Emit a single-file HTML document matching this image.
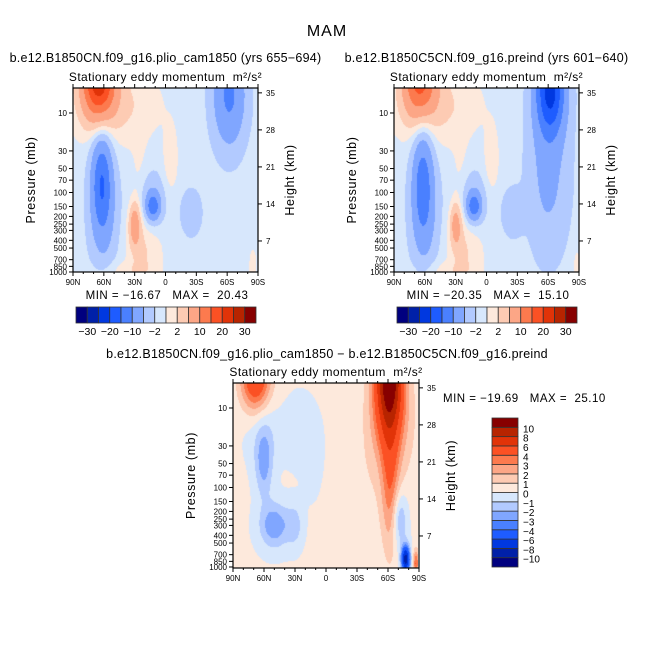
<!DOCTYPE html>
<html><head><meta charset="utf-8">
<style>
body{margin:0;background:#fff;}
#root{position:relative;width:654px;height:654px;overflow:hidden;font-family:"Liberation Sans","DejaVu Sans",sans-serif;}
canvas{position:absolute;}
svg{position:absolute;left:0;top:0;}
text{white-space:pre;}
</style></head>
<body>
<div id="root">
<canvas id="c1" width="185" height="184" style="left:73px;top:88px"></canvas>
<canvas id="c2" width="185" height="184" style="left:394px;top:88px"></canvas>
<canvas id="c3" width="185" height="185" style="left:233px;top:383px"></canvas>
<svg id="s" width="654" height="654"></svg>
</div>
<script>
// ---- data ----
const topLevels = [-30,-25,-20,-15,-10,-5,-2,0,2,5,10,15,20,25,30];
const topLevelLabels = ["-30","-20","-10","-2","2","10","20","30"];
const diffLevels = [-10,-8,-6,-4,-3,-2,-1,0,1,2,3,4,6,8,10];
const colors = ["#00007f","#0020a8","#0038e0","#1e5cff","#4a80ff","#80a6ff","#b2caff","#d7e7fc","#fde9dc","#fdcbb3","#fca686","#fc7a4e","#fb5124","#e13308","#b72400","#870000"];
const pressTicks = [10,30,50,70,100,150,200,250,300,400,500,700,850,1000];
const heightTicks = [35,28,21,14,7];
const latTicks = [90,60,30,0,-30,-60,-90];
const latLabels = ["90N","60N","30N","0","30S","60S","90S"];
// blobs: lat center, pressure center (mb), amplitude, lat sigma, log-p sigma
const p1Lat = [65,50,-62,62,60,12,15,30,20,-25,-5,40,-85,25];
const p1P   = [3.5,8,6,70,200,150,130,250,500,180,40,1000,900,100];
const p1Amp = [24,3.5,-10,-12,-4,-10,-4.5,8,3,-3.5,2.5,2,2,2];
const p1SL  = [11,30,11,7,10,4.5,10,4,12,7,5,20,3,6];
const p1SZ  = [0.35,0.35,0.45,0.45,0.5,0.11,0.25,0.2,0.3,0.2,0.3,0.1,0.2,0.4];
const p1Base = -1;
const p2Lat = [65,50,-62,-60,62,60,12,15,30,20,-25,-5,40,-88,25];
const p2P   = [3.5,8,5,60,70,200,150,130,250,500,180,40,1000,900,100];
const p2Amp = [17,3.5,-20,-5,-10,-4,-10,-4.5,7,3,-3.5,2.5,2,2,2];
const p2SL  = [11,30,10,14,7,10,4.5,10,4,12,7,5,20,3,6];
const p2SZ  = [0.35,0.35,0.4,0.7,0.5,0.5,0.11,0.25,0.2,0.3,0.2,0.3,0.1,0.2,0.4];
const p2Base = -1;
const dLat = [-62,-63,68,60,50,30,25,-78,-20,60,-72,-88,-62,10];
const dP   = [3.5,100,4,50,300,300,20,800,200,20,250,900,15,60];
const dAmp = [11,3,6,-2.5,-3,-1.5,-0.8,-9,0.7,-1,-2.5,4,2.5,-0.6];
const dSL  = [9,6,10,6,10,6,10,3,20,12,5,2,16,8];
const dSZ  = [0.5,0.6,0.3,0.3,0.2,0.2,0.3,0.12,0.5,0.3,0.25,0.12,0.55,0.4];
const dBase = 0.15;

// ---- axis functions ----
const zTop = Math.log10(4.85), pxPerDec = 79.5;
function yOfP(p, y0){ return y0 + (Math.log10(p)-zTop)*pxPerDec; }
function xOfLat(lat, x0, w){ return x0 + (90-lat)/180*w; }
function yOfH(h, y0){ return y0 + 190 - 5.29*h; }

function render(id, lat, P, amp, sl, sz, base, levels){
  const c=document.getElementById(id), ctx=c.getContext('2d');
  const W=c.width,H=c.height, img=ctx.createImageData(W,H);
  const rgb=colors.map(h=>[parseInt(h.substr(1,2),16),parseInt(h.substr(3,2),16),parseInt(h.substr(5,2),16)]);
  for(let j=0;j<H;j++){
    const z = zTop + (j+0.5)/pxPerDec;
    for(let i=0;i<W;i++){
      const la = 90 - (i+0.5)/W*180;
      let v=base;
      for(let k=0;k<lat.length;k++){
        const dx=(la-lat[k])/sl[k], dz=(z-Math.log10(P[k]))/sz[k];
        v+=amp[k]*Math.exp(-0.5*(dx*dx+dz*dz));
      }
      let idx=0; while(idx<levels.length && v>=levels[idx]) idx++;
      const o=(j*W+i)*4, col=rgb[idx];
      img.data[o]=col[0];img.data[o+1]=col[1];img.data[o+2]=col[2];img.data[o+3]=255;
    }
  }
  ctx.putImageData(img,0,0);
}
render('c1',p1Lat,p1P,p1Amp,p1SL,p1SZ,p1Base,topLevels);
render('c2',p2Lat,p2P,p2Amp,p2SL,p2SZ,p2Base,topLevels);
render('c3',dLat,dP,dAmp,dSL,dSZ,dBase,diffLevels);

// ---- annotations ----
const S=document.getElementById('s'), NS='http://www.w3.org/2000/svg';
function el(tag,attrs,txt){const e=document.createElementNS(NS,tag);for(const k in attrs)e.setAttribute(k,attrs[k]);if(txt!=null)e.textContent=txt;S.appendChild(e);return e;}
function text(x,y,t,size,anchor,name,extra){
  const e=el('text',Object.assign({x:x,y:y,'font-size':size,'text-anchor':anchor||'middle',fill:'#000'},extra||{}),t);
  
  
  return e;
}
text(327,36,"MAM",16,'middle','figure-title',{'letter-spacing':1});

function panel(x0,y0,w,h,title,tag){
  const r=el('rect',{x:x0,y:y0,width:w,height:h,fill:'none',stroke:'#000','stroke-width':1.2});
  
  
  if(title) text(x0+w/2,y0-26,title,12.5,'middle',tag+'-title',{'letter-spacing':0.25});
  text(x0+w/2,y0-7,"Stationary eddy momentum  m²/s²",12,'middle',tag+'-subtitle',{'letter-spacing':0.4});
  pressTicks.forEach(p=>{
    const y=yOfP(p,y0);
    el('line',{x1:x0-4,x2:x0,y1:y,y2:y,stroke:'#000'});
    text(x0-6,y+3,String(p),8,'end',tag+'-pressure-tick-label');
  });
  heightTicks.forEach(hk=>{
    const y=yOfH(hk,y0);
    el('line',{x1:x0+w,x2:x0+w+4,y1:y,y2:y,stroke:'#000'});
    text(x0+w+8,y+3,String(hk),8,'start',tag+'-height-tick-label');
  });
  latTicks.forEach((la,i)=>{
    const x=xOfLat(la,x0,w);
    el('line',{x1:x,x2:x,y1:y0+h,y2:y0+h+4,stroke:'#000'});
    el('line',{x1:x,x2:x,y1:y0,y2:y0-4,stroke:'#000'});
    text(x,y0+h+13,latLabels[i],8,'middle',tag+'-lat-tick-label');
  });
  for(let la=80;la>-90;la-=10){ if(la%30===0) continue;
    const x=xOfLat(la,x0,w);
    el('line',{x1:x,x2:x,y1:y0+h,y2:y0+h+2,stroke:'#000'});
    el('line',{x1:x,x2:x,y1:y0,y2:y0-2,stroke:'#000'});
  }
  text(x0-38,y0+h/2,"Pressure (mb)",12.5,'middle',tag+'-y-axis-title',{'letter-spacing':0.6,transform:`rotate(-90 ${x0-38} ${y0+h/2})`});
  text(x0+w+36,y0+h/2,"Height (km)",12.5,'middle',tag+'-y2-axis-title',{'letter-spacing':0.6,transform:`rotate(-90 ${x0+w+36} ${y0+h/2})`});
}
panel(73,88,185,184,"b.e12.B1850CN.f09_g16.plio_cam1850 (yrs 655−694)","plio");
panel(394,88,185,184,"b.e12.B1850C5CN.f09_g16.preind (yrs 601−640)","preind");
panel(233,383,186,185,null,"diff");
text(327,358,"b.e12.B1850CN.f09_g16.plio_cam1850 − b.e12.B1850C5CN.f09_g16.preind",12.5,'middle','diff-title',{'letter-spacing':0.25});
text(167,299,"MIN = −16.67   MAX =  20.43",11.5,'middle','plio-min-max',{'letter-spacing':0.5});
text(488,299,"MIN = −20.35   MAX =  15.10",11.5,'middle','preind-min-max',{'letter-spacing':0.5});
text(443,402,"MIN = −19.69   MAX =  25.10",11.5,'start','diff-min-max',{'letter-spacing':0.5});

function hbar(x0,y0,w,h,tag){
  const bw=w/16;
  colors.forEach((c,i)=>{
    const r=el('rect',{x:x0+i*bw,y:y0,width:bw,height:h,fill:c,stroke:'#333','stroke-width':0.8});
    
    
  });
  topLevelLabels.forEach((t,k)=>{
    const i=k*2; const x=x0+(i+1)*bw;
    text(x,y0+h+12,t.replace('-','−'),10.5,'middle',tag+'-colorbar-label');
  });
}
hbar(76,307,180,16,'plio');
hbar(397,307,180,16,'preind');

(function(){
  const x0=492,y0=418,w=26,h=149,bh=h/16;
  colors.forEach((c,i)=>{
    const r=el('rect',{x:x0,y:y0+(15-i)*bh,width:w,height:bh,fill:c,stroke:'#333','stroke-width':0.8});
    
    
  });
  diffLevels.forEach((lv,i)=>{
    const y=y0+(15-i)*bh;
    text(x0+w+5,y+5,String(lv).replace('-','−'),10,'start','diff-colorbar-label');
  });
})();
</script>
</body></html>
